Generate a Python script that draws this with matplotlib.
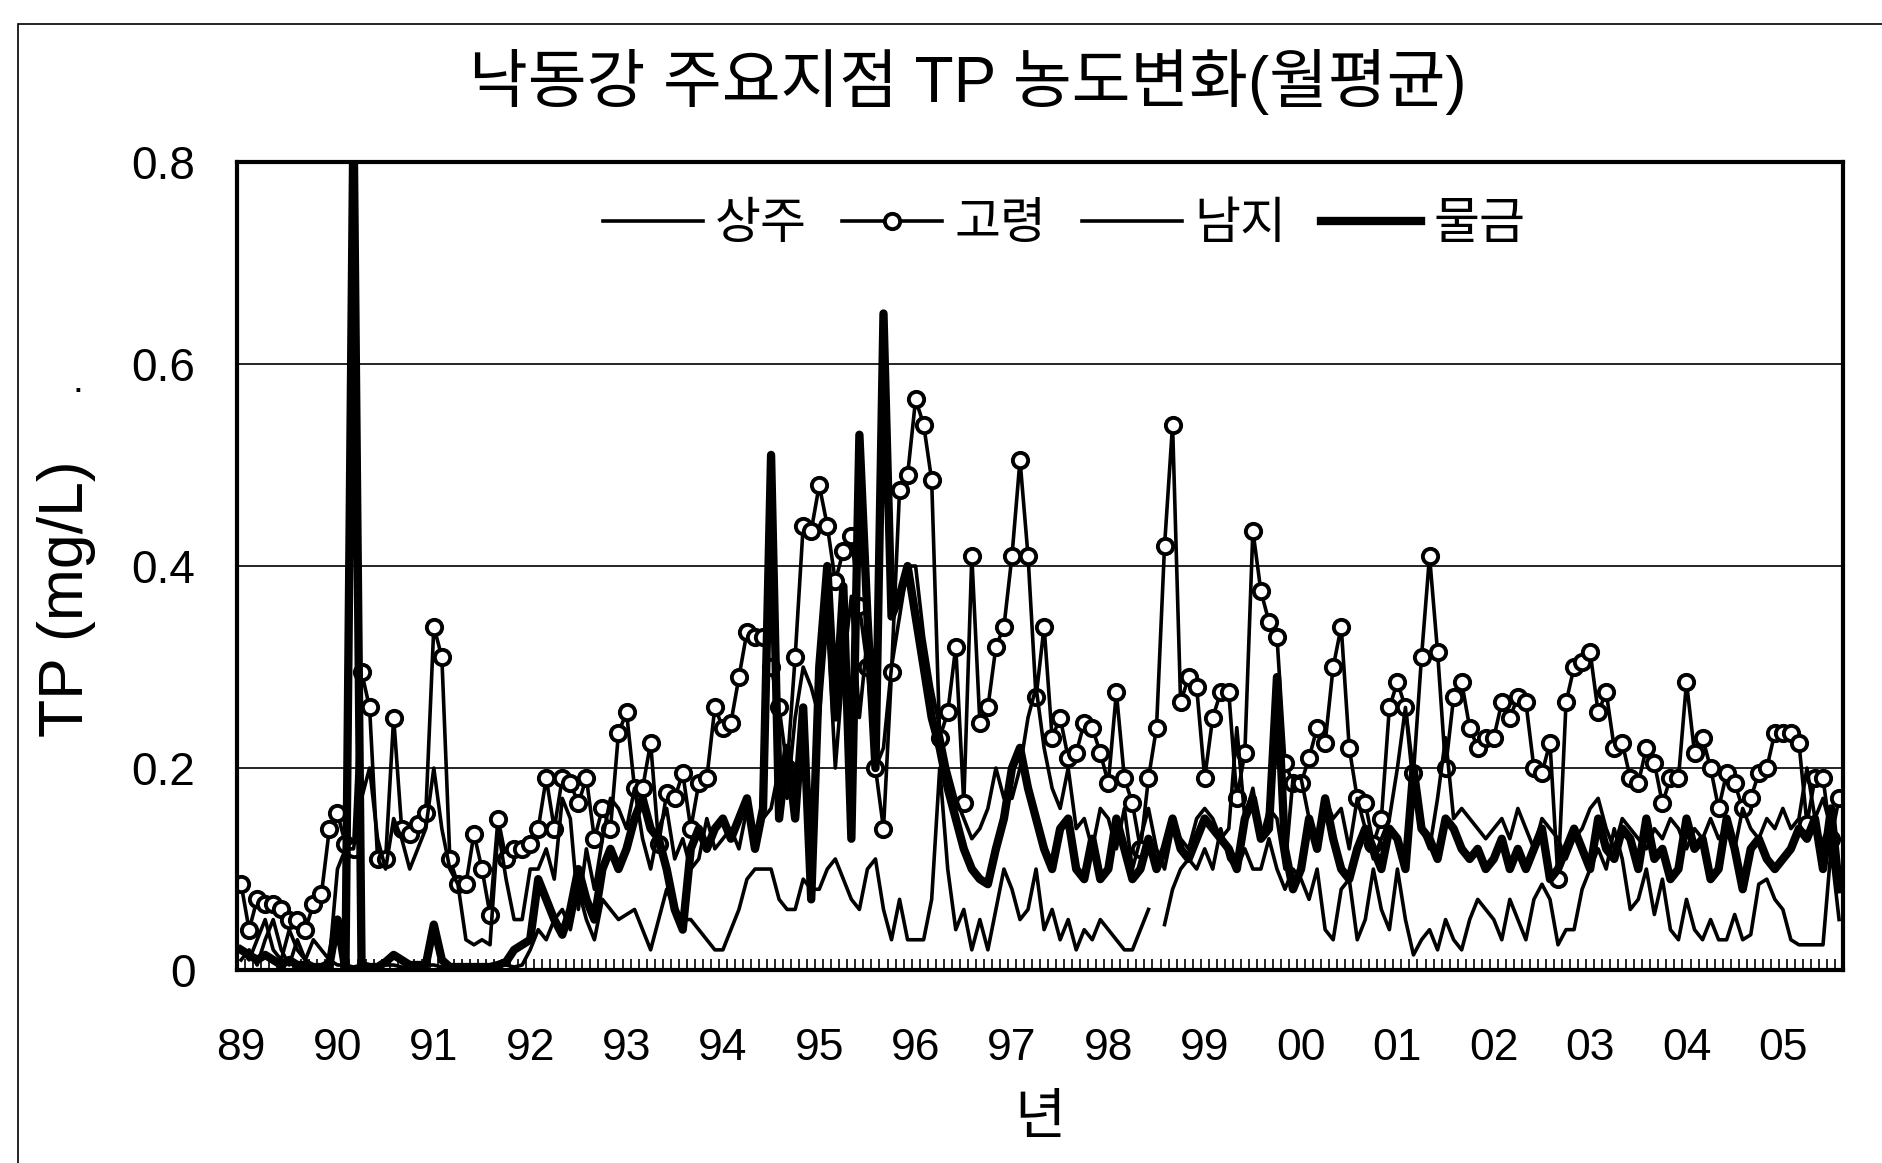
import numpy as np
import matplotlib
matplotlib.use("Agg")
import matplotlib.pyplot as plt
from matplotlib.patches import Rectangle

plt.rcParams["font.family"] = ["Liberation Sans", "Noto Sans CJK KR"]

title = "낙동강 주요지점 TP 농도변화(월평균)"
series_names = ["상주", "고령", "남지", "물금"]
year_labels = ["89", "90", "91", "92", "93", "94", "95", "96", "97",
               "98", "99", "00", "01", "02", "03", "04", "05"]
y_ticks = [0, 0.2, 0.4, 0.6, 0.8]
y_tick_labels = ["0", "0.2", "0.4", "0.6", "0.8"]

# monthly means, Jan 1989 .. Aug 2005 (one row per year)
sangju = [
    0.01, 0.02, 0.005, 0.03, 0.05, 0.02, 0.005, 0.03, 0.01, 0.005, 0.005, 0.01,
    0.005, 0.005, 0.003, 0.005, 0.003, 0.003, 0.005, 0.005, 0.003, 0.003, 0.003, 0.005,
    0.005, 0.003, 0.003, 0.003, 0.003, 0.005, 0.003, 0.003, 0.005, 0.005, 0.003, 0.005,
    0.02, 0.04, 0.03, 0.05, 0.06, 0.04, 0.08, 0.05, 0.03, 0.07, 0.06, 0.05,
    0.055, 0.06, 0.04, 0.02, 0.05, 0.08, 0.06, 0.05, 0.05, 0.04, 0.03, 0.02,
    0.02, 0.04, 0.06, 0.09, 0.1, 0.1, 0.1, 0.07, 0.06, 0.06, 0.09, 0.08,
    0.08, 0.1, 0.11, 0.09, 0.07, 0.06, 0.1, 0.11, 0.06, 0.03, 0.07, 0.03,
    0.03, 0.03, 0.07, 0.2, 0.1, 0.04, 0.06, 0.02, 0.05, 0.02, 0.06, 0.1,
    0.08, 0.05, 0.06, 0.1, 0.04, 0.06, 0.03, 0.05, 0.02, 0.04, 0.03, 0.05,
    0.04, 0.03, 0.02, 0.02, 0.04, 0.06, np.nan, 0.045, 0.08, 0.1, 0.11, 0.1,
    0.12, 0.1, 0.14, 0.11, 0.1, 0.12, 0.1, 0.1, 0.13, 0.1, 0.08, 0.1,
    0.09, 0.07, 0.1, 0.04, 0.03, 0.08, 0.09, 0.03, 0.05, 0.1, 0.06, 0.04,
    0.1, 0.05, 0.015, 0.03, 0.04, 0.02, 0.05, 0.03, 0.02, 0.05, 0.07, 0.06,
    0.05, 0.03, 0.07, 0.05, 0.03, 0.07, 0.085, 0.07, 0.025, 0.04, 0.04, 0.08,
    0.1, 0.12, 0.1, 0.14, 0.11, 0.06, 0.07, 0.1, 0.055, 0.09, 0.04, 0.03,
    0.07, 0.04, 0.03, 0.05, 0.03, 0.03, 0.055, 0.03, 0.035, 0.085, 0.09, 0.07,
    0.06, 0.03, 0.025, 0.025, 0.025, 0.025, 0.12, 0.05,
]
goryeong = [
    0.085, 0.04, 0.07, 0.065, 0.065, 0.06, 0.05, 0.05, 0.04, 0.065, 0.075, 0.14,
    0.155, 0.125, 0.12, 0.295, 0.26, 0.11, 0.11, 0.25, 0.14, 0.135, 0.145, 0.155,
    0.34, 0.31, 0.11, 0.085, 0.085, 0.135, 0.1, 0.055, 0.15, 0.11, 0.12, 0.12,
    0.125, 0.14, 0.19, 0.14, 0.19, 0.185, 0.165, 0.19, 0.13, 0.16, 0.14, 0.235,
    0.255, 0.18, 0.18, 0.225, 0.125, 0.175, 0.17, 0.195, 0.14, 0.185, 0.19, 0.26,
    0.24, 0.245, 0.29, 0.335, 0.33, 0.33, 0.3, 0.26, 0.2, 0.31, 0.44, 0.435,
    0.48, 0.44, 0.385, 0.415, 0.43, 0.36, 0.3, 0.2, 0.14, 0.295, 0.475, 0.49,
    0.565, 0.54, 0.485, 0.23, 0.255, 0.32, 0.165, 0.41, 0.245, 0.26, 0.32, 0.34,
    0.41, 0.505, 0.41, 0.27, 0.34, 0.23, 0.25, 0.21, 0.215, 0.245, 0.24, 0.215,
    0.185, 0.275, 0.19, 0.165, 0.12, 0.19, 0.24, 0.42, 0.54, 0.265, 0.29, 0.28,
    0.19, 0.25, 0.275, 0.275, 0.17, 0.215, 0.435, 0.375, 0.345, 0.33, 0.205, 0.185,
    0.185, 0.21, 0.24, 0.225, 0.3, 0.34, 0.22, 0.17, 0.165, 0.125, 0.15, 0.26,
    0.285, 0.26, 0.195, 0.31, 0.41, 0.315, 0.2, 0.27, 0.285, 0.24, 0.22, 0.23,
    0.23, 0.265, 0.25, 0.27, 0.265, 0.2, 0.195, 0.225, 0.09, 0.265, 0.3, 0.305,
    0.315, 0.255, 0.275, 0.22, 0.225, 0.19, 0.185, 0.22, 0.205, 0.165, 0.19, 0.19,
    0.285, 0.215, 0.23, 0.2, 0.16, 0.195, 0.185, 0.16, 0.17, 0.195, 0.2, 0.235,
    0.235, 0.235, 0.225, 0.145, 0.19, 0.19, 0.13, 0.17,
]
namji = [
    0.02, 0.01, 0.03, 0.05, 0.02, 0.01, 0.04, 0.02, 0.01, 0.03, 0.02, 0.01,
    0.1, 0.12, 0.12, 0.17, 0.2, 0.13, 0.1, 0.15, 0.13, 0.1, 0.12, 0.14,
    0.2, 0.14, 0.1, 0.085, 0.03, 0.025, 0.03, 0.025, 0.14, 0.09, 0.05, 0.05,
    0.1, 0.1, 0.12, 0.09, 0.17, 0.15, 0.06, 0.12, 0.08, 0.13, 0.17, 0.16,
    0.14, 0.18, 0.13, 0.1, 0.14, 0.16, 0.11, 0.13, 0.1, 0.11, 0.15, 0.12,
    0.13, 0.14, 0.12, 0.16, 0.13, 0.15, 0.16, 0.2, 0.17, 0.25, 0.3, 0.28,
    0.25, 0.35, 0.2, 0.3, 0.37, 0.25, 0.33, 0.2, 0.22, 0.3, 0.35, 0.4,
    0.4, 0.33, 0.28, 0.24, 0.2, 0.17, 0.15, 0.13, 0.14, 0.16, 0.2, 0.17,
    0.17, 0.2, 0.25, 0.28, 0.22, 0.18, 0.16, 0.2, 0.14, 0.15, 0.12, 0.16,
    0.15, 0.12, 0.16, 0.1, 0.13, 0.16, 0.12, 0.1, 0.14, 0.13, 0.12, 0.15,
    0.16, 0.15, 0.13, 0.14, 0.24, 0.15, 0.18, 0.13, 0.16, 0.15, 0.1, 0.19,
    0.19, 0.15, 0.13, 0.17, 0.15, 0.16, 0.12, 0.17, 0.14, 0.11, 0.13, 0.15,
    0.2, 0.26, 0.18, 0.14, 0.12, 0.17, 0.23, 0.15, 0.16, 0.15, 0.14, 0.13,
    0.14, 0.15, 0.13, 0.16, 0.14, 0.12, 0.15, 0.14, 0.13, 0.11, 0.13, 0.14,
    0.16, 0.17, 0.14, 0.12, 0.15, 0.14, 0.13, 0.12, 0.14, 0.13, 0.15, 0.14,
    0.12, 0.14, 0.13, 0.15, 0.13, 0.14, 0.12, 0.16, 0.14, 0.13, 0.15, 0.14,
    0.16, 0.14, 0.15, 0.2, 0.15, 0.17, 0.14, 0.1,
]
mulgeum = [
    0.02, 0.015, 0.01, 0.015, 0.01, 0.005, 0.01, 0.005, 0.005, 0.003, 0.003, 0.005,
    0.05, 0.0, 0.85, 0.005, 0.003, 0.003, 0.008, 0.015, 0.01, 0.005, 0.005, 0.005,
    0.045, 0.01, 0.003, 0.003, 0.003, 0.003, 0.003, 0.003, 0.005, 0.008, 0.02, 0.025,
    0.03, 0.09, 0.07, 0.05, 0.035, 0.06, 0.1, 0.07, 0.05, 0.1, 0.12, 0.1,
    0.12, 0.15, 0.17, 0.14, 0.13, 0.1, 0.06, 0.04, 0.12, 0.14, 0.12, 0.14,
    0.15, 0.13, 0.15, 0.17, 0.12, 0.16, 0.51, 0.15, 0.22, 0.15, 0.26, 0.07,
    0.3, 0.4, 0.25, 0.38, 0.13, 0.53, 0.35, 0.2, 0.65, 0.35, 0.37, 0.4,
    0.35, 0.3, 0.25, 0.22, 0.18, 0.15, 0.12, 0.1, 0.09, 0.085, 0.12, 0.15,
    0.2, 0.22, 0.18, 0.15, 0.12, 0.1, 0.14, 0.15, 0.1, 0.09, 0.13, 0.09,
    0.1, 0.15, 0.12, 0.09, 0.1, 0.13, 0.1, 0.12, 0.15, 0.12, 0.11, 0.13,
    0.15, 0.14, 0.13, 0.12, 0.1, 0.15, 0.17, 0.13, 0.14, 0.29, 0.12, 0.08,
    0.1, 0.15, 0.12, 0.17, 0.13, 0.1, 0.09, 0.12, 0.14, 0.12, 0.1, 0.14,
    0.13, 0.1, 0.2, 0.14, 0.13, 0.11, 0.15, 0.14, 0.12, 0.11, 0.12, 0.1,
    0.11, 0.13, 0.1, 0.12, 0.1, 0.12, 0.14, 0.09, 0.1, 0.12, 0.14, 0.12,
    0.1, 0.15, 0.12, 0.11, 0.14, 0.13, 0.1, 0.15, 0.11, 0.12, 0.09, 0.1,
    0.15, 0.12, 0.13, 0.09, 0.1, 0.15, 0.12, 0.08, 0.12, 0.13, 0.11, 0.1,
    0.11, 0.12, 0.14, 0.13, 0.15, 0.1, 0.16, 0.08,
]

months = np.arange(len(goryeong))

fig = plt.figure(figsize=(18.83, 11.63), dpi=100)
# chart-area border (runs off the right and bottom edge in the scan)
fig.patches.append(Rectangle((18 / 1883, -0.1), 1.2, 1 - 24 / 1163 + 0.1,
                             transform=fig.transFigure, fill=False,
                             edgecolor="black", linewidth=1.2))
ax = fig.add_axes([0.1259, 0.1659, 0.9788 - 0.1259, 0.8607 - 0.1659])

ax.plot(months, sangju, color="black", linewidth=2.6, label=series_names[0])
ax.plot(months, goryeong, color="black", linewidth=2.6, marker="o",
        markersize=11, markerfacecolor="white", markeredgecolor="black",
        markeredgewidth=2.8, label=series_names[1])
ax.plot(months, namji, color="black", linewidth=2.6, label=series_names[2])
ax.plot(months, mulgeum, color="black", linewidth=6.0, label=series_names[3])

ax.set_xlim(-0.5, len(goryeong) - 0.5)
ax.set_ylim(0, 0.8)
ax.set_yticks(y_ticks)
ax.set_yticklabels(y_tick_labels, fontsize=33)
ax.set_xticks(months[::12])
ax.set_xticklabels(year_labels, fontsize=32)
ax.set_xticks(np.arange(len(goryeong) + 1) - 0.5, minor=True)
ax.tick_params(axis="x", which="major", length=0, pad=42)
ax.tick_params(axis="x", which="minor", direction="in", length=8, width=1.2)
ax.tick_params(axis="y", which="major", direction="out", length=0, pad=30)
ax.grid(axis="y", color="black", linewidth=1.2)
for spine in ax.spines.values():
    spine.set_linewidth(3)

ax.set_ylabel("TP (mg/L)", fontsize=45)
ax.yaxis.set_label_coords(-0.088, 0.46)
ax.set_xlabel("년", fontsize=40, labelpad=18)
fig.suptitle(title, fontsize=46, x=0.514, y=0.958)
fig.text(65 / 1568, 1 - 318 / 968, ".", fontsize=28, ha="center", va="center")

ax.legend(loc="center", bbox_to_anchor=(0.515, 0.922), ncol=4, frameon=False,
          fontsize=36, handlelength=2.0, handletextpad=0.25, columnspacing=0.7)

fig.savefig("out.png", dpi=100)
